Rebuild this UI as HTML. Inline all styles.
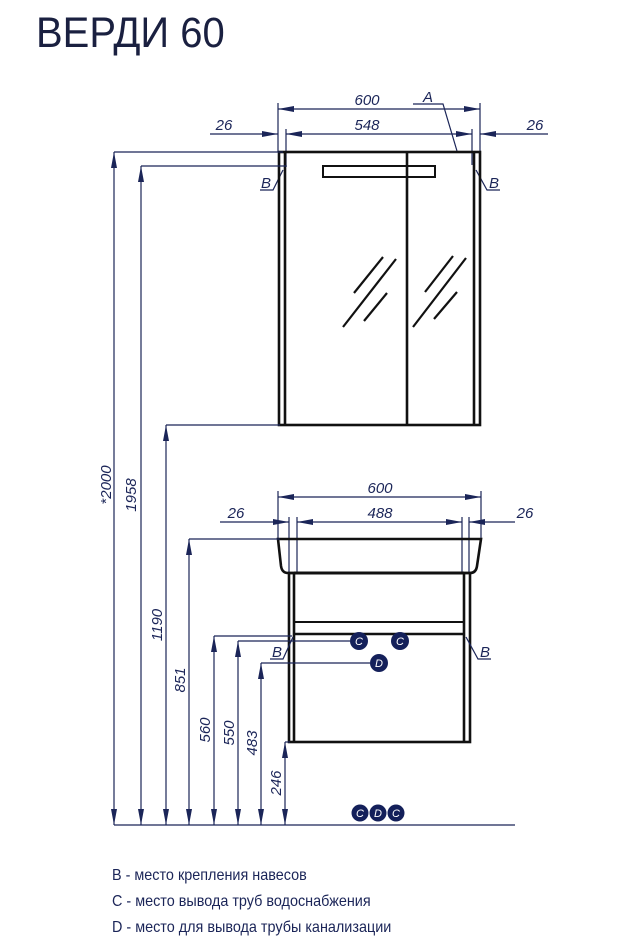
<!DOCTYPE html>
<html><head><meta charset="utf-8"><style>
html,body{margin:0;padding:0;background:#fff;}
svg{display:block;}
.d{stroke:#1b2558;stroke-width:1.2;fill:none;}
.k{stroke:#111;stroke-width:2.6;fill:none;}
.t{font-family:"Liberation Sans",sans-serif;font-style:italic;font-size:15px;fill:#1b2558;}
.lg{font-family:"Liberation Sans",sans-serif;font-size:16px;fill:#1b2558;}
.c{fill:#14205a;}
.ct{font-family:"Liberation Sans",sans-serif;font-style:italic;font-size:11px;fill:#fff;text-anchor:middle;}
</style></head><body>
<svg width="618" height="949" viewBox="0 0 618 949" xmlns="http://www.w3.org/2000/svg">
<defs>
<marker id="a" viewBox="0 0 16 6" refX="16" refY="3" markerWidth="16" markerHeight="6" markerUnits="userSpaceOnUse" orient="auto-start-reverse"><path d="M0,0 L16,3 L0,6 Z" fill="#1b2558"/></marker>
</defs>
<text x="36" y="47" font-family="Liberation Sans,sans-serif" font-size="43" fill="#1a2040" transform="translate(36 0) scale(0.93 1) translate(-36 0)">ВЕРДИ 60</text>

<line class="d" x1="278" y1="103" x2="278" y2="152"/>
<line class="d" x1="480" y1="103" x2="480" y2="152"/>
<line class="d" x1="286" y1="129" x2="286" y2="165"/>
<line class="d" x1="472" y1="129" x2="472" y2="165"/>
<line class="d" x1="278" y1="109" x2="480" y2="109" marker-start="url(#a)" marker-end="url(#a)"/>
<line class="d" x1="286" y1="134" x2="472" y2="134" marker-start="url(#a)" marker-end="url(#a)"/>
<line class="d" x1="210" y1="134" x2="278" y2="134" marker-end="url(#a)"/>
<line class="d" x1="548" y1="134" x2="480" y2="134" marker-end="url(#a)"/>
<text class="t" x="367" y="105" text-anchor="middle">600</text>
<text class="t" x="367" y="130" text-anchor="middle">548</text>
<text class="t" x="224" y="130" text-anchor="middle">26</text>
<text class="t" x="535" y="130" text-anchor="middle">26</text>
<polyline class="d" points="413,104 443,104 457,151"/>
<text class="t" x="428" y="102" text-anchor="middle">A</text>
<polyline class="d" points="283,170 273,190 260,190"/>
<text class="t" x="266" y="188" text-anchor="middle">B</text>
<polyline class="d" points="476,170 487,190 500,190"/>
<text class="t" x="494" y="188" text-anchor="middle">B</text>

<rect class="k" x="279" y="152" width="201" height="273"/>
<line class="k" x1="285" y1="152" x2="285" y2="425"/>
<line class="k" x1="474" y1="152" x2="474" y2="425"/>
<line class="k" x1="407" y1="152" x2="407" y2="425"/>
<rect x="323" y="166" width="112" height="11" fill="none" stroke="#111" stroke-width="2"/>
<g stroke="#111" stroke-width="2.2">
<line x1="354" y1="293" x2="383" y2="257"/>
<line x1="343" y1="327" x2="396" y2="259"/>
<line x1="364" y1="321" x2="387" y2="293"/>
<line x1="425" y1="292" x2="453" y2="256"/>
<line x1="413" y1="327" x2="466" y2="258"/>
<line x1="434" y1="319" x2="457" y2="292"/>
</g>

<line class="d" x1="278" y1="491" x2="278" y2="539"/>
<line class="d" x1="481" y1="491" x2="481" y2="539"/>
<line class="d" x1="289" y1="517" x2="289" y2="572"/>
<line class="d" x1="297" y1="517" x2="297" y2="572"/>
<line class="d" x1="462" y1="517" x2="462" y2="572"/>
<line class="d" x1="469" y1="517" x2="469" y2="572"/>
<line class="d" x1="278" y1="497" x2="481" y2="497" marker-start="url(#a)" marker-end="url(#a)"/>
<line class="d" x1="297" y1="522" x2="462" y2="522" marker-start="url(#a)" marker-end="url(#a)"/>
<line class="d" x1="220" y1="522" x2="289" y2="522" marker-end="url(#a)"/>
<line class="d" x1="515" y1="522" x2="469" y2="522" marker-end="url(#a)"/>
<text class="t" x="380" y="493" text-anchor="middle">600</text>
<text class="t" x="380" y="518" text-anchor="middle">488</text>
<text class="t" x="236" y="518" text-anchor="middle">26</text>
<text class="t" x="525" y="518" text-anchor="middle">26</text>

<path class="k" d="M278,539 L481,539 L477,566 Q476,573 470,573 L288,573 Q282,573 281,566 Z"/>
<rect class="k" x="289" y="573" width="181" height="169"/>
<line class="k" x1="294" y1="573" x2="294" y2="742"/>
<line class="k" x1="464" y1="573" x2="464" y2="742"/>
<line x1="294" y1="622" x2="464" y2="622" stroke="#111" stroke-width="2"/>
<line x1="294" y1="634" x2="464" y2="634" stroke="#111" stroke-width="2.4"/>
<line x1="294" y1="573" x2="464" y2="573" stroke="#111" stroke-width="3"/>
<polyline class="d" points="293,637 283,659 270,659"/>
<text class="t" x="277" y="657" text-anchor="middle">B</text>
<polyline class="d" points="466,637 478,659 491,659"/>
<text class="t" x="485" y="657" text-anchor="middle">B</text>
<circle class="c" cx="359" cy="641" r="9"/><text class="ct" x="359" y="645">C</text>
<circle class="c" cx="400" cy="641" r="9"/><text class="ct" x="400" y="645">C</text>
<circle class="c" cx="379" cy="663" r="9"/><text class="ct" x="379" y="667">D</text>

<line class="d" x1="114" y1="152" x2="283" y2="152"/>
<line class="d" x1="141" y1="166" x2="287" y2="166"/>
<line class="d" x1="166" y1="425" x2="280" y2="425"/>
<line class="d" x1="189" y1="539" x2="280" y2="539"/>
<line class="d" x1="214" y1="636" x2="292" y2="636"/>
<line class="d" x1="238" y1="641" x2="350" y2="641"/>
<line class="d" x1="261" y1="663" x2="370" y2="663"/>
<line class="d" x1="285" y1="742" x2="290" y2="742"/>
<line class="d" x1="114" y1="152" x2="114" y2="825" marker-start="url(#a)" marker-end="url(#a)"/>
<line class="d" x1="141" y1="166" x2="141" y2="825" marker-start="url(#a)" marker-end="url(#a)"/>
<line class="d" x1="166" y1="425" x2="166" y2="825" marker-start="url(#a)" marker-end="url(#a)"/>
<line class="d" x1="189" y1="539" x2="189" y2="825" marker-start="url(#a)" marker-end="url(#a)"/>
<line class="d" x1="214" y1="636" x2="214" y2="825" marker-start="url(#a)" marker-end="url(#a)"/>
<line class="d" x1="238" y1="641" x2="238" y2="825" marker-start="url(#a)" marker-end="url(#a)"/>
<line class="d" x1="261" y1="663" x2="261" y2="825" marker-start="url(#a)" marker-end="url(#a)"/>
<line class="d" x1="285" y1="742" x2="285" y2="825" marker-start="url(#a)" marker-end="url(#a)"/>
<line class="d" x1="114" y1="825" x2="515" y2="825" stroke-width="1.5"/>
<g class="t" text-anchor="middle">
<text transform="translate(111 485) rotate(-90)">*2000</text>
<text transform="translate(136 495) rotate(-90)">1958</text>
<text transform="translate(162 625) rotate(-90)">1190</text>
<text transform="translate(185 680) rotate(-90)">851</text>
<text transform="translate(210 730) rotate(-90)">560</text>
<text transform="translate(234 733) rotate(-90)">550</text>
<text transform="translate(257 743) rotate(-90)">483</text>
<text transform="translate(281 783) rotate(-90)">246</text>
</g>
<circle class="c" cx="360" cy="813" r="8.5"/><text class="ct" x="360" y="817">C</text>
<circle class="c" cx="378" cy="813" r="8.5"/><text class="ct" x="378" y="817">D</text>
<circle class="c" cx="396" cy="813" r="8.5"/><text class="ct" x="396" y="817">C</text>

<g class="lg" transform="translate(112 0) scale(0.9 1) translate(-112 0)">
<text x="112" y="880">B - место крепления навесов</text>
<text x="112" y="906">C - место вывода труб водоснабжения</text>
<text x="112" y="932">D - место для вывода трубы канализации</text>
</g>
</svg>
</body></html>
